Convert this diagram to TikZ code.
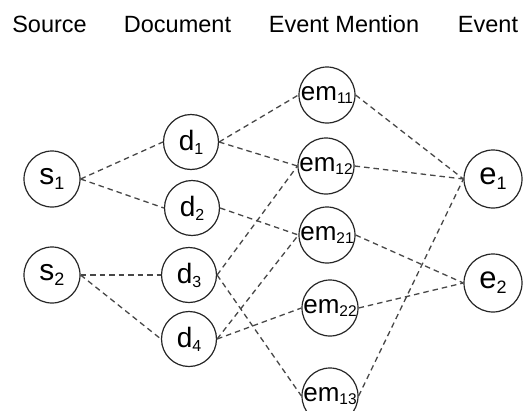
\documentclass[tikz,border=0pt]{standalone}
\usepackage{fontspec}
\setmainfont{Liberation Sans}
\newcommand{\lbl}[5]{{\fontsize{#1}{#1}\selectfont #3\raisebox{-#5}{\fontsize{#2}{#2}\selectfont #4}}}
\begin{document}
\begin{tikzpicture}[x=1pt,y=-1pt,
  nd/.style={circle,draw=black!85,line width=1.2pt,inner sep=0pt,minimum size=56pt},
  lk/.style={draw=black!72,line width=1.3pt,dash pattern=on 5.5pt off 4pt},
  hd/.style={anchor=base,inner sep=0pt,font=\fontsize{23.5}{26}\selectfont}]
\useasboundingbox (0,0) rectangle (525,410);
\clip (0,0) rectangle (525,410);
\node[hd] (h1) at (49.5,32) {Source};
\node[hd] (h2) at (177.5,32) {Document};
\node[hd] (h3) at (344,32) {Event Mention};
\node[hd] (h4) at (488,32) {Event};

\node[nd] (s1) at (52,179) {\lbl{30}{18}{s}{1}{5pt}};
\node[nd] (s2) at (52,275) {\lbl{30}{18}{s}{2}{5pt}};
\node[nd,minimum size=55pt] (d1) at (191,142) {\lbl{28}{16}{d}{1}{4pt}};
\node[nd,minimum size=55pt] (d2) at (192,208) {\lbl{28}{16}{d}{2}{4pt}};
\node[nd,minimum size=55pt] (d3) at (189,275) {\lbl{28}{16}{d}{3}{4pt}};
\node[nd,minimum size=55pt] (d4) at (189,339) {\lbl{28}{16}{d}{4}{4pt}};
\node[nd] (em11) at (327,95) {\lbl{26}{15.5}{em}{11}{3.5pt}};
\node[nd] (em12) at (326,166) {\lbl{26}{15.5}{em}{12}{3.5pt}};
\node[nd] (em21) at (327,235) {\lbl{26}{15.5}{em}{21}{3.5pt}};
\node[nd] (em22) at (330,308) {\lbl{26}{15.5}{em}{22}{3.5pt}};
\node[nd] (em13) at (330,396) {\lbl{26}{15.5}{em}{13}{3.5pt}};
\node[nd,minimum size=58pt] (e1) at (493,179) {\lbl{31}{18}{e}{1}{5pt}};
\node[nd,minimum size=58pt] (e2) at (493,283) {\lbl{31}{18}{e}{2}{5pt}};

\draw[lk] (s1.east) -- (d1.west);
\draw[lk] (s1.east) -- (d2.west);
\draw[lk] (s2.east) -- (d3.west);
\draw[lk] (s2.east) -- (d4.west);
\draw[lk] (d1.east) -- (em11.west);
\draw[lk] (d1.east) -- (em12.west);
\draw[lk] (d2.east) -- (em21.west);
\draw[lk] (d3.east) -- (em12.west);
\draw[lk] (d3.east) -- (em13.west);
\draw[lk] (d4.east) -- (em21.west);
\draw[lk] (d4.east) -- (em22.west);
\draw[lk] (em11.east) -- (e1.west);
\draw[lk] (em12.east) -- (e1.west);
\draw[lk] (em13.east) -- (e1.west);
\draw[lk] (em21.east) -- (e2.west);
\draw[lk] (em22.east) -- (e2.west);
\end{tikzpicture}
\end{document}
